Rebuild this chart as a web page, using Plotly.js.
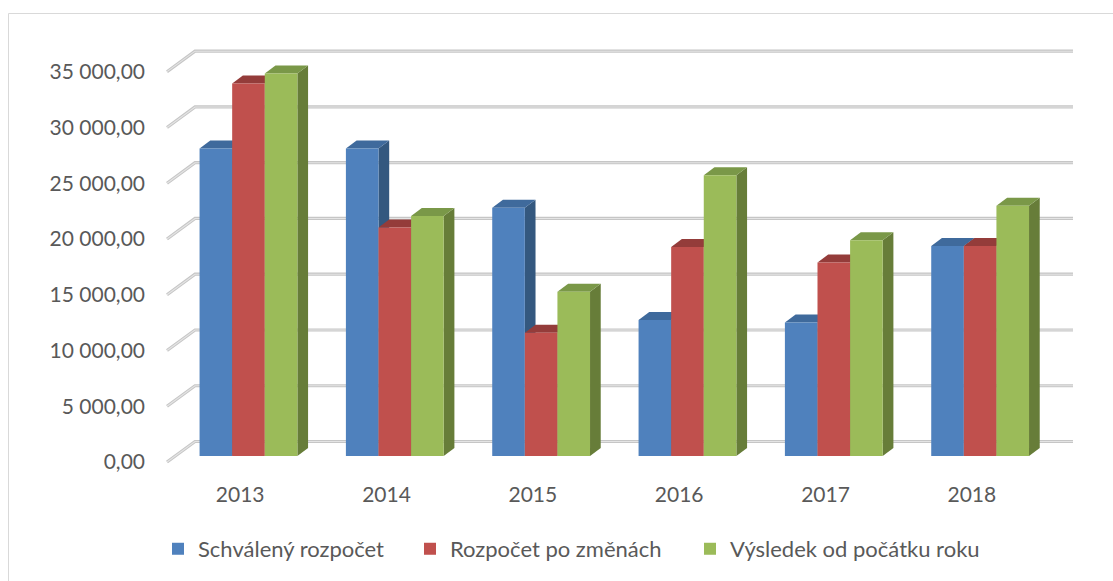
<!DOCTYPE html>
<html>
<head>
<meta charset="utf-8">
<script src="https://cdn.plot.ly/plotly-3.0.1.min.js"></script>
<style>
html,body{margin:0;padding:0;background:#ffffff;}
#chart{width:1113px;height:581px;}
</style>
</head>
<body>
<div id="chart"></div>
<script>
// ---------- data ----------
const years = ['2013', '2014', '2015', '2016', '2017', '2018'];
const schvalenyRozpocet = [27570, 27570, 22250, 12190, 11980, 18840];
const rozpocetPoZmenach = [33400, 20490, 11050, 18750, 17360, 18840];
const vysledekOdPocatku = [34290, 21530, 14720, 25180, 19350, 22430];
const seriesNames = ['Schválený rozpočet', 'Rozpočet po změnách', 'Výsledek od počátku roku'];
const yTickValues = [0, 5000, 10000, 15000, 20000, 25000, 30000, 35000];

// ---------- styling / pseudo-3D geometry ----------
const frontColors = ['#4F81BD', '#C0504D', '#9BBB59'];
const sideColors  = ['#34587F', '#8A3735', '#677D39'];
const topColors   = ['#3F6A9C', '#943C3A', '#7A9848'];
const PX_X = 146.33;              // px per category unit
const PX_Y = 55.76 / 5000;        // px per value unit
const X_MIN = -0.5 - 7 / PX_X, X_MAX = 5.5 + 33 / PX_X;
const Y_MIN = -18 / PX_Y, Y_MAX = 422 / PX_Y;
const BAR_W = 32.6 / PX_X;
const BAR_SHIFT_X = 8.3 / PX_X, BAR_BASE = 6 / PX_Y;     // bar front plane
const BAR_DX = 10.7 / PX_X, BAR_DY = 8 / PX_Y;           // bar depth
const WALL_DX = 28 / PX_X, WALL_DY = 20.5 / PX_Y;        // back wall
const groupHalf = 1.5 * BAR_W;

const seriesValues = [schvalenyRozpocet, rozpocetPoZmenach, vysledekOdPocatku];
const legendIds = ['legend', 'legend2', 'legend3'];
const xIdx = years.map((_, i) => i);

const traces = seriesValues.map((vals, s) => ({
  type: 'bar',
  name: seriesNames[s],
  legend: legendIds[s],
  x: xIdx,
  y: vals,
  base: vals.map(() => BAR_BASE),
  width: BAR_W,
  offset: -groupHalf + BAR_SHIFT_X + s * BAR_W,
  marker: {color: frontColors[s], line: {width: 0}},
  hoverinfo: 'skip'
}));

const shapes = [];
// back wall gridlines with diagonal floor/side edges
const leftX = -0.5;
yTickValues.forEach(v => {
  const p = `M ${leftX},${v} L ${leftX + WALL_DX},${v + WALL_DY} L ${5.5 + WALL_DX},${v + WALL_DY}`;
  shapes.push({type: 'path', path: p, xref: 'x', yref: 'y', layer: 'below',
               line: {color: '#c6c6c6', width: 3.2}});
  shapes.push({type: 'path', path: p, xref: 'x', yref: 'y', layer: 'below',
               line: {color: '#e4e4e4', width: 1.1}});
});
// bar side and top faces (per category: series in drawing order)
xIdx.forEach(c => {
  seriesValues.forEach((vals, s) => {
    const xl = c - groupHalf + BAR_SHIFT_X + s * BAR_W;
    const xr = xl + BAR_W;
    const yb = BAR_BASE, yt = BAR_BASE + vals[c];
    shapes.push({type: 'path', xref: 'x', yref: 'y', layer: 'below',
      path: `M ${xr},${yb} L ${xr},${yt} L ${xr + BAR_DX},${yt + BAR_DY} L ${xr + BAR_DX},${yb + BAR_DY} Z`,
      fillcolor: sideColors[s], line: {width: 0}});
    shapes.push({type: 'path', xref: 'x', yref: 'y', layer: 'below',
      path: `M ${xl},${yt} L ${xr},${yt} L ${xr + BAR_DX},${yt + BAR_DY} L ${xl + BAR_DX},${yt + BAR_DY} Z`,
      fillcolor: topColors[s], line: {width: 0}});
  });
});
// outer chart border
const plotL = 160, plotW = 918, plotT = 40, plotH = 440;
shapes.push({type: 'rect', xref: 'paper', yref: 'paper', layer: 'above',
  x0: (8.5 - plotL) / plotW, x1: (1200 - plotL) / plotW,
  y0: -1, y1: (plotT + plotH - 13.5) / plotH,
  line: {color: '#d9d9d9', width: 1}, fillcolor: 'rgba(0,0,0,0)'});

const font = {family: 'Lato, "Open Sans", sans-serif', size: 21, color: '#595959'};
const legendFont = {family: 'Lato, "Open Sans", sans-serif', size: 22, color: '#595959'};
const legendX = [158, 410, 690];   // px positions of legend entries

const layout = {
  width: 1113, height: 581,
  margin: {l: plotL, r: 1113 - plotL - plotW, t: plotT, b: 581 - plotT - plotH, pad: 0, autoexpand: false},
  paper_bgcolor: '#ffffff', plot_bgcolor: 'rgba(0,0,0,0)',
  separators: ', ',
  barmode: 'overlay',
  showlegend: true,
  font: font,
  xaxis: {
    range: [X_MIN, X_MAX], tickvals: xIdx, ticktext: years,
    showgrid: false, zeroline: false, showline: false, ticks: '',
    ticklabelstandoff: 0, tickfont: font, fixedrange: true
  },
  yaxis: {
    range: [Y_MIN, Y_MAX], tickvals: yTickValues, tickformat: ',.2f',
    showgrid: false, zeroline: false, showline: false, ticks: '',
    ticklabelstandoff: 14, tickfont: font, fixedrange: true
  },
  shapes: shapes
};
legendIds.forEach((id, s) => {
  layout[id] = {
    orientation: 'h', x: (legendX[s] - plotL) / plotW, xanchor: 'left',
    y: -0.109, yanchor: 'top', font: legendFont,
    bgcolor: 'rgba(0,0,0,0)', itemclick: false, itemdoubleclick: false
  };
});

Plotly.newPlot('chart', traces, layout, {displayModeBar: false, staticPlot: true});
</script>
</body>
</html>
